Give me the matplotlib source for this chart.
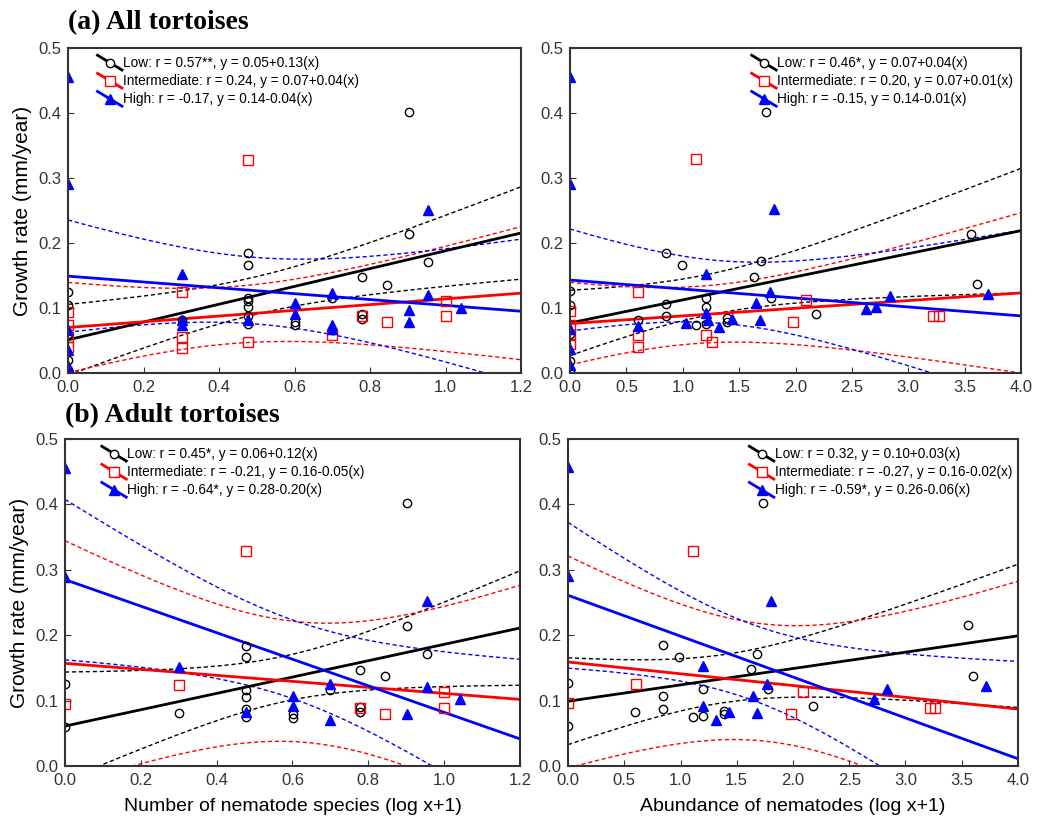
import math
import numpy as np
import matplotlib
matplotlib.use("Agg")
import matplotlib.pyplot as plt
from matplotlib.lines import Line2D
from matplotlib.legend_handler import HandlerBase

plt.rcParams['font.family'] = ['Liberation Sans', 'DejaVu Sans']

# ---- data ----
# (a) all tortoises, x = number of nematode species (log x+1)
a_sp_low_x = [0, 0, 0, 0, 0, 0.301, 0.477, 0.477, 0.477, 0.477, 0.477, 0.477, 0.477,
              0.602, 0.602, 0.699, 0.778, 0.778, 0.778, 0.845, 0.903, 0.903, 0.954]
a_sp_low_y = [0.125, 0.105, 0.06, 0.02, 0.005, 0.081, 0.184, 0.166, 0.116, 0.11, 0.102, 0.087, 0.075,
              0.079, 0.074, 0.115, 0.147, 0.09, 0.083, 0.136, 0.401, 0.214, 0.171]
a_sp_int_x = [0, 0, 0, 0, 0.301, 0.301, 0.301, 0.477, 0.477, 0.699, 0.778, 0.845, 1.0, 1.0]
a_sp_int_y = [0.094, 0.074, 0.056, 0.04, 0.124, 0.055, 0.038, 0.328, 0.047, 0.059, 0.087, 0.078, 0.111, 0.087]
a_sp_high_x = [0, 0, 0, 0, 0, 0.301, 0.301, 0.301, 0.477, 0.602, 0.602, 0.699, 0.699, 0.699,
               0.903, 0.903, 0.954, 0.954, 1.041]
a_sp_high_y = [0.456, 0.291, 0.066, 0.036, 0.011, 0.152, 0.082, 0.074, 0.082, 0.107, 0.091, 0.123, 0.074, 0.068,
               0.097, 0.079, 0.251, 0.12, 0.1]

# (a) all tortoises, x = abundance of nematodes (log x+1)
a_ab_low_x = [0, 0, 0, 0, 0, 0.6, 0.847, 0.847, 0.847, 0.995, 1.113, 1.208, 1.208, 1.208,
              1.392, 1.392, 1.631, 1.69, 1.741, 1.779, 2.185, 3.556, 3.606]
a_ab_low_y = [0.126, 0.105, 0.06, 0.019, 0.004, 0.081, 0.185, 0.106, 0.087, 0.166, 0.074, 0.116, 0.101, 0.075,
              0.085, 0.079, 0.148, 0.172, 0.401, 0.115, 0.091, 0.214, 0.137]
a_ab_int_x = [0, 0, 0, 0, 0.6, 0.6, 0.6, 1.113, 1.208, 1.255, 1.978, 2.096, 3.221, 3.27]
a_ab_int_y = [0.095, 0.074, 0.058, 0.045, 0.124, 0.058, 0.04, 0.329, 0.059, 0.048, 0.079, 0.112, 0.088, 0.088]
a_ab_high_x = [0, 0, 0, 0, 0, 0.6, 1.03, 1.208, 1.208, 1.22, 1.32, 1.44, 1.646, 1.688, 1.776, 1.809,
               2.623, 2.718, 2.836, 3.71]
a_ab_high_y = [0.455, 0.29, 0.068, 0.037, 0.012, 0.073, 0.077, 0.152, 0.092, 0.082, 0.071, 0.083, 0.108, 0.082,
               0.124, 0.253, 0.099, 0.102, 0.118, 0.122]

# (b) adult tortoises, x = number of nematode species
b_sp_low_x = [0, 0, 0.301, 0.477, 0.477, 0.477, 0.477, 0.477, 0.477, 0.602, 0.602, 0.699,
              0.778, 0.778, 0.778, 0.845, 0.903, 0.903, 0.954]
b_sp_low_y = [0.126, 0.059, 0.081, 0.184, 0.166, 0.116, 0.105, 0.087, 0.075, 0.079, 0.073, 0.116,
              0.147, 0.09, 0.083, 0.137, 0.402, 0.214, 0.171]
b_sp_int_x = [0, 0.301, 0.477, 0.778, 0.845, 1.0, 1.0]
b_sp_int_y = [0.095, 0.124, 0.328, 0.088, 0.079, 0.113, 0.089]
b_sp_high_x = [0, 0, 0.301, 0.477, 0.602, 0.602, 0.699, 0.699, 0.903, 0.954, 0.954, 1.041]
b_sp_high_y = [0.456, 0.289, 0.152, 0.082, 0.107, 0.092, 0.125, 0.07, 0.08, 0.252, 0.121, 0.102]

# (b) adult tortoises, x = abundance of nematodes
b_ab_low_x = [0, 0, 0.593, 0.84, 0.84, 0.84, 0.988, 1.107, 1.196, 1.196, 1.386, 1.386,
              1.626, 1.682, 1.736, 1.774, 2.181, 3.552, 3.6]
b_ab_low_y = [0.127, 0.061, 0.082, 0.185, 0.107, 0.087, 0.167, 0.075, 0.117, 0.076, 0.084, 0.08,
              0.148, 0.172, 0.402, 0.117, 0.092, 0.215, 0.137]
b_ab_int_x = [0, 0.6, 1.107, 1.979, 2.092, 3.214, 3.264]
b_ab_int_y = [0.096, 0.125, 0.328, 0.08, 0.113, 0.089, 0.089]
b_ab_high_x = [0, 0, 1.196, 1.196, 1.315, 1.433, 1.641, 1.682, 1.771, 1.801, 2.721, 2.834, 3.715]
b_ab_high_y = [0.457, 0.291, 0.153, 0.092, 0.07, 0.083, 0.107, 0.081, 0.125, 0.253, 0.102, 0.117, 0.122]

# fitted lines (intercept, slope) for Low / Intermediate / High
a_sp_b0 = [0.051, 0.070, 0.149]
a_sp_b1 = [0.137, 0.044, -0.045]
a_ab_b0 = [0.077, 0.076, 0.143]
a_ab_b1 = [0.0355, 0.0118, -0.0138]
b_sp_b0 = [0.061, 0.157, 0.285]
b_sp_b1 = [0.125, -0.046, -0.203]
b_ab_b0 = [0.099, 0.159, 0.261]
b_ab_b1 = [0.025, -0.018, -0.0625]

a_sp_labels = ["Low: r = 0.57**, y = 0.05+0.13(x)",
               "Intermediate: r = 0.24, y = 0.07+0.04(x)",
               "High: r = -0.17, y = 0.14-0.04(x)"]
a_ab_labels = ["Low: r = 0.46*, y = 0.07+0.04(x)",
               "Intermediate: r = 0.20, y = 0.07+0.01(x)",
               "High: r = -0.15, y = 0.14-0.01(x)"]
b_sp_labels = ["Low: r = 0.45*, y = 0.06+0.12(x)",
               "Intermediate: r = -0.21, y = 0.16-0.05(x)",
               "High: r = -0.64*, y = 0.28-0.20(x)"]
b_ab_labels = ["Low: r = 0.32, y = 0.10+0.03(x)",
               "Intermediate: r = -0.27, y = 0.16-0.02(x)",
               "High: r = -0.59*, y = 0.26-0.06(x)"]

colors = ['black', 'red', 'blue']
markers = ['o', 's', '^']
mfaces = ['none', 'none', 'blue']
msizes = [6, 7, 6.5]


def t_crit(df, p=0.975):
    # two-sided 95% t quantile, by bisection on the integrated density
    c = math.exp(math.lgamma((df + 1) / 2) - math.lgamma(df / 2)) / math.sqrt(df * math.pi)
    def cdf(t):
        u = np.linspace(0, t, 2001)
        return 0.5 + np.trapezoid(c * (1 + u ** 2 / df) ** (-(df + 1) / 2), u)
    lo, hi = 0.0, 20.0
    for _ in range(60):
        mid = (lo + hi) / 2
        if cdf(mid) < p:
            lo = mid
        else:
            hi = mid
    return (lo + hi) / 2


def conf_band(x, y, b0, b1, xs):
    x = np.asarray(x, float)
    y = np.asarray(y, float)
    n = len(x)
    s = np.sqrt(np.sum((y - (b0 + b1 * x)) ** 2) / (n - 2))
    sxx = np.sum((x - x.mean()) ** 2)
    se = s * np.sqrt(1.0 / n + (xs - x.mean()) ** 2 / sxx)
    t = t_crit(n - 2)
    yh = b0 + b1 * xs
    return yh - t * se, yh + t * se


class DiagHandler(HandlerBase):
    # legend key like the original: a sloping line with the marker on it
    def create_artists(self, legend, orig, xdescent, ydescent, width, height, fontsize, trans):
        x0, x1 = -xdescent, -xdescent + width
        y0, y1 = -ydescent + height * 1.25, -ydescent - height * 0.3
        ln = Line2D([x0, x1], [y0, y1], color=orig.get_color(), lw=2)
        mk = Line2D([(x0 + x1) / 2], [(y0 + y1) / 2], ls='none', marker=orig.get_marker(),
                    mfc='white' if orig.get_markerfacecolor() == 'none' else orig.get_markerfacecolor(),
                    mec=orig.get_markeredgecolor(), ms=orig.get_markersize(), mew=1)
        ln.set_transform(trans)
        mk.set_transform(trans)
        return [ln, mk]


def panel(ax, xs_list, ys_list, b0s, b1s, labels, xmax, xstep, loc, anchor):
    grid = np.linspace(0, xmax, 200)
    for i in range(3):
        lo, hi = conf_band(xs_list[i], ys_list[i], b0s[i], b1s[i], grid)
        ax.plot(grid, lo, ls=(0, (3, 2)), color=colors[i], lw=1)
        ax.plot(grid, hi, ls=(0, (3, 2)), color=colors[i], lw=1)
    for i in range(3):
        ax.plot(grid, b0s[i] + b1s[i] * grid, color=colors[i], lw=2)
    handles = []
    for i in range(3):
        ax.plot(xs_list[i], ys_list[i], ls='none', marker=markers[i], mfc=mfaces[i],
                mec=colors[i], ms=msizes[i], mew=1)
        handles.append(Line2D([], [], color=colors[i], marker=markers[i], mfc=mfaces[i],
                              mec=colors[i], ms=msizes[i]))
    ax.legend(handles, labels, loc=loc, bbox_to_anchor=anchor, frameon=False, fontsize=9.8,
              handlelength=1.8, handletextpad=0.05, labelspacing=0.3, borderaxespad=0.2,
              handler_map={Line2D: DiagHandler()})
    ax.set_xlim(0, xmax)
    ax.set_ylim(0, 0.5)
    ax.set_xticks(np.arange(0, xmax + 1e-9, xstep))
    ax.set_yticks(np.arange(0, 0.51, 0.1))
    ax.xaxis.set_major_formatter('{x:.1f}')
    ax.yaxis.set_major_formatter('{x:.1f}')
    ax.tick_params(direction='in', labelsize=12, colors='#333333', length=4, pad=5)
    for sp in ax.spines.values():
        sp.set_linewidth(1.5)
        sp.set_color('#333333')


fig = plt.figure(figsize=(10.55, 8.16), dpi=100)
ax1 = fig.add_axes([0.0645, 0.5429, 0.4294, 0.3983])
ax2 = fig.add_axes([0.5403, 0.5429, 0.4275, 0.3983])
ax3 = fig.add_axes([0.0616, 0.0613, 0.4313, 0.4007])
ax4 = fig.add_axes([0.5384, 0.0613, 0.4265, 0.4007])

panel(ax1, [a_sp_low_x, a_sp_int_x, a_sp_high_x], [a_sp_low_y, a_sp_int_y, a_sp_high_y],
      a_sp_b0, a_sp_b1, a_sp_labels, 1.2, 0.2, 'upper left', (0.047, 1.0))
panel(ax2, [a_ab_low_x, a_ab_int_x, a_ab_high_x], [a_ab_low_y, a_ab_int_y, a_ab_high_y],
      a_ab_b0, a_ab_b1, a_ab_labels, 4.0, 0.5, 'upper right', (1.0, 1.0))
panel(ax3, [b_sp_low_x, b_sp_int_x, b_sp_high_x], [b_sp_low_y, b_sp_int_y, b_sp_high_y],
      b_sp_b0, b_sp_b1, b_sp_labels, 1.2, 0.2, 'upper left', (0.063, 1.0))
panel(ax4, [b_ab_low_x, b_ab_int_x, b_ab_high_x], [b_ab_low_y, b_ab_int_y, b_ab_high_y],
      b_ab_b0, b_ab_b1, b_ab_labels, 4.0, 0.5, 'upper right', (1.005, 1.0))

ax1.set_ylabel("Growth rate (mm/year)", fontsize=15, labelpad=4)
ax3.set_ylabel("Growth rate (mm/year)", fontsize=15, labelpad=4)
ax3.set_xlabel("Number of nematode species (log x+1)", fontsize=14, labelpad=7)
ax4.set_xlabel("Abundance of nematodes (log x+1)", fontsize=14, labelpad=7)

fig.text(0.064, 0.972, "(a) All tortoises", fontsize=20, fontweight='bold',
         family='Liberation Serif', va='center')
fig.text(0.062, 0.491, "(b) Adult tortoises", fontsize=20, fontweight='bold',
         family='Liberation Serif', va='center')

fig.savefig("out.png", dpi=100)
